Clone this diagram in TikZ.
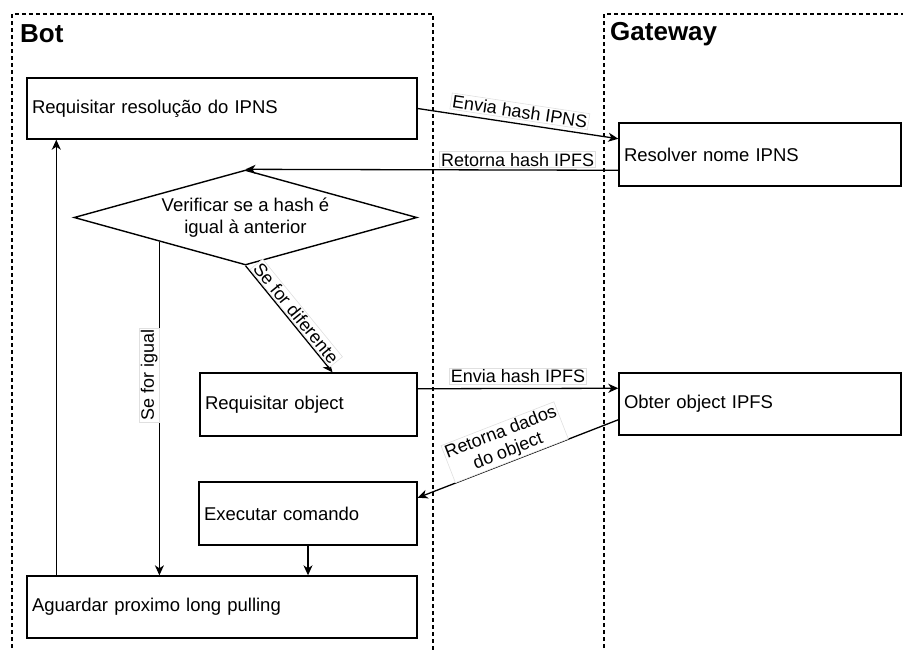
\documentclass[tikz,border=0pt]{standalone}
\usepackage{fontspec}
\setmainfont{Liberation Sans}
\usetikzlibrary{arrows.meta,calc,shapes.geometric}
\begin{document}
\begin{tikzpicture}[x=1pt,y=-1pt,
  cont/.style={line width=1.1pt,dash pattern=on 4pt off 3pt},
  title/.style={font=\fontsize{26}{30}\selectfont\bfseries,inner sep=0pt},
  box/.style={draw=black,line width=1.4pt,fill=white,rectangle,inner xsep=5pt,
    inner ysep=0pt,align=left,font=\fontsize{18.5}{22}\selectfont},
  decision/.style={draw=black,line width=1.4pt,fill=white,diamond,inner sep=0pt,
    shape aspect=3.61,minimum width=343pt,minimum height=95pt,align=center,
    font=\fontsize{18.5}{22}\selectfont},
  arr/.style={line width=1.3pt,-{Stealth[length=10pt,width=9pt,inset=3pt]}},
  rarr/.style={line width=1.3pt,{Stealth[length=10pt,width=9pt,inset=3pt]}-},
  lab/.style={fill=white,draw=black!12,line width=0.6pt,inner sep=1.5pt,
    font=\fontsize{18}{20}\selectfont},
]
\useasboundingbox (0,0) rectangle (903,649);

% swimlane frames
\draw[cont] (12,655) -- (12,14) -- (433,14) -- (433,655);
\draw[cont] (604,655) -- (604,14) -- (910,14);
\node[title,anchor=base west] (bot) at (20,42) {Bot};
\node[title,anchor=base west] (gw) at (610,40) {Gateway};

% process steps
\node[box,text width=380pt,minimum height=61pt] (rr) at (222,108.5) {Requisitar resolução do IPNS};
\node[box,text width=272pt,minimum height=63pt] (res) at (760,154.5) {Resolver nome IPNS};
\node[decision] (dia) at (245.5,217.5) {Verificar se a hash é\\igual à anterior};
\node[box,text width=207pt,minimum height=63pt] (ro) at (308.5,404.5) {Requisitar object};
\node[box,text width=272pt,minimum height=62pt] (ob) at (760,404) {Obter object IPFS};
\node[box,text width=208pt,minimum height=63pt] (ex) at (308,513.5) {Executar comando};
\node[box,text width=380pt,minimum height=62pt] (ag) at (222,607) {Aguardar proximo long pulling};

% connectors
\draw[arr] (rr.east) -- node[lab,sloped,above=4pt] {Envia hash IPNS} ($(res.west)+(0,-15.75)$);
\draw[arr] ($(res.west)+(0,15.75)$) -- node[lab,above=2pt,pos=0.27] {Retorna hash IPFS} (dia.north);
\draw[arr] (dia.south) -- node[lab,sloped,above=1pt] {Se for diferente} ($(ro.north)+(24,0)$);
\draw[arr] ($(ro.east)+(0,-15.75)$) -- node[lab,above=4pt] {Envia hash IPFS} ($(ob.west)+(0,-15.75)$);
\draw[rarr] ($(ex.east)+(0,-15.75)$) -- node[lab,sloped,above=0pt,pos=0.47,align=center] {Retorna dados\\do object} ($(ob.west)+(0,15.75)$);
\draw[arr] (dia.south west) -- node[lab,rotate=90,anchor=south,pos=0.4] {Se for igual} (dia.south west |- ag.north);
\draw[arr] (ex.south) -- (ex.south |- ag.north);
\coordinate (loop) at ($(ag.north west)+(30,0)$);
\draw[arr] (loop) -- (loop |- rr.south);
\end{tikzpicture}
\end{document}
